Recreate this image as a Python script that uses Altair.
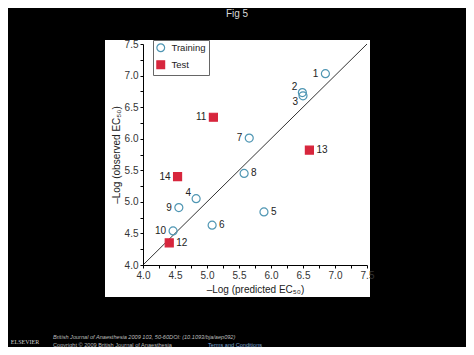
import altair as alt
import pandas as pd

# ---- data ----
ids = [1, 2, 3, 4, 5, 6, 7, 8, 9, 10, 11, 12, 13, 14]
pred = [6.85, 6.49, 6.50, 4.83, 5.89, 5.08, 5.66, 5.58, 4.56, 4.47, 5.10, 4.41, 6.60, 4.54]
obs = [7.03, 6.73, 6.68, 5.05, 4.84, 4.63, 6.01, 5.45, 4.91, 4.54, 6.34, 4.35, 5.82, 5.40]
groups = ["Training"] * 10 + ["Test"] * 4
set_order = ["Training", "Test"]

labels_left = [1, 7, 9, 10, 11, 14]
labels_right = [5, 6, 8, 12, 13]
labels_upleft = [2, 4]
labels_downleft = [3]

identity_x = [4.0, 7.5]
identity_y = [4.0, 7.5]

tick_values = [4.0, 4.25, 4.5, 4.75, 5.0, 5.25, 5.5, 5.75, 6.0, 6.25, 6.5,
               6.75, 7.0, 7.25, 7.5]

fig_title = ["Fig 5"]
footer_1 = ["British Journal of Anaesthesia 2009 103, 50-60DOI: (10.1093/bja/aep092)"]
footer_2 = ["Copyright © 2009 British Journal of Anaesthesia"]
footer_link = ["Terms and Conditions"]
publisher = ["ELSEVIER"]

FONT = "Liberation Sans"

df = pd.DataFrame({"id": ids, "pred": pred, "obs": obs, "set": groups})
df["label"] = df["id"].astype(str)
line_df = pd.DataFrame({"pred": identity_x, "obs": identity_y})

xscale = alt.Scale(domain=[4.0, 7.5], nice=False, zero=False)
yscale = alt.Scale(domain=[4.0, 7.5], nice=False, zero=False)
label_expr = "(datum.value * 4) % 2 == 0 ? format(datum.value, '.1f') : ''"

common_axis = dict(values=tick_values, labelExpr=label_expr, grid=False,
                   tickSize=3, tickColor="black", domainColor="black",
                   labelFont=FONT, labelFontSize=10, labelColor="#333",
                   titleFont=FONT, titleFontSize=10, titleFontWeight="normal",
                   titleColor="#222", labelPadding=2, zindex=1,
                   labelOverlap=False, labelBound=False, labelFlush=False)

X = alt.X("pred:Q", scale=xscale,
          axis=alt.Axis(title="–Log (predicted EC₅₀)", titlePadding=4, **common_axis))
Y = alt.Y("obs:Q", scale=yscale,
          axis=alt.Axis(title="–Log (observed EC₅₀)", titlePadding=3, **common_axis))

# white panel behind the figure
panel = alt.Chart(pd.DataFrame({"a": [0]})).mark_rect(color="white").encode(
    x=alt.value(-38), x2=alt.value(227), y=alt.value(-4), y2=alt.value(253))

diag = alt.Chart(line_df).mark_line(color="#333", strokeWidth=1).encode(x=X, y=Y)

legend = alt.Legend(title=None, orient="none", legendX=10, legendY=-4,
                    strokeColor="#666", fillColor="white", padding=3,
                    rowPadding=3, labelFont=FONT, labelFontSize=9.5,
                    labelColor="#222", symbolSize=60, symbolStrokeWidth=1.2,
                    labelOffset=6, zindex=2)

points = alt.Chart(df).mark_point(size=64, strokeWidth=1.2, opacity=1).encode(
    x=X, y=Y,
    shape=alt.Shape("set:N", scale=alt.Scale(domain=set_order, range=["circle", "square"]), legend=legend),
    stroke=alt.Stroke("set:N", scale=alt.Scale(domain=set_order, range=["#4f96b3", "#d7263d"]), legend=legend),
    fill=alt.Fill("set:N", scale=alt.Scale(domain=set_order, range=["rgba(0,0,0,0)", "#d7263d"]), legend=legend),
)

def lbl(ids_sel, align, dx, dy):
    return alt.Chart(df).transform_filter(
        alt.FieldOneOfPredicate(field="id", oneOf=ids_sel)
    ).mark_text(align=align, dx=dx, dy=dy, font=FONT, fontSize=10, color="#222").encode(
        x=X, y=Y, text="label:N")

lab_l = lbl(labels_left, "right", -7, 0)
lab_r = lbl(labels_right, "left", 7, 0)
lab_ul = lbl(labels_upleft, "right", -5, -6)
lab_dl = lbl(labels_downleft, "right", -5, 6)

def txt(values, x, y, size, color, align="left", style="normal", font=FONT):
    return alt.Chart(pd.DataFrame({"t": values})).mark_text(
        align=align, baseline="middle", fontSize=size, color=color,
        fontStyle=style, font=font).encode(x=alt.value(x), y=alt.value(y), text="t:N")

title = txt(fig_title, 94, -30, 10, "#d8d8d8", align="center")
f1 = txt(footer_1, -90, 293, 5.6, "#bbbbbb", style="italic")
f2 = txt(footer_2, -90, 301, 5.6, "#bbbbbb")
f3 = txt(footer_link, 65, 301, 5.6, "#7fa7d6")
pub = txt(publisher, -118, 298, 6, "#cccccc", align="center", font="Liberation Serif")

chart = alt.layer(panel, diag, points, lab_l, lab_r, lab_ul, lab_dl,
                  title, f1, f2, f3, pub).properties(
    width=224, height=221,
    padding={"left": 135, "top": 36, "right": 99, "bottom": 82},
    autosize=alt.AutoSizeParams(type="none"),
    background="black",
).configure_view(stroke=None).configure_axis(labelOverlap=False)

chart.save("out.html", embed_options={"renderer": "svg", "actions": False})
